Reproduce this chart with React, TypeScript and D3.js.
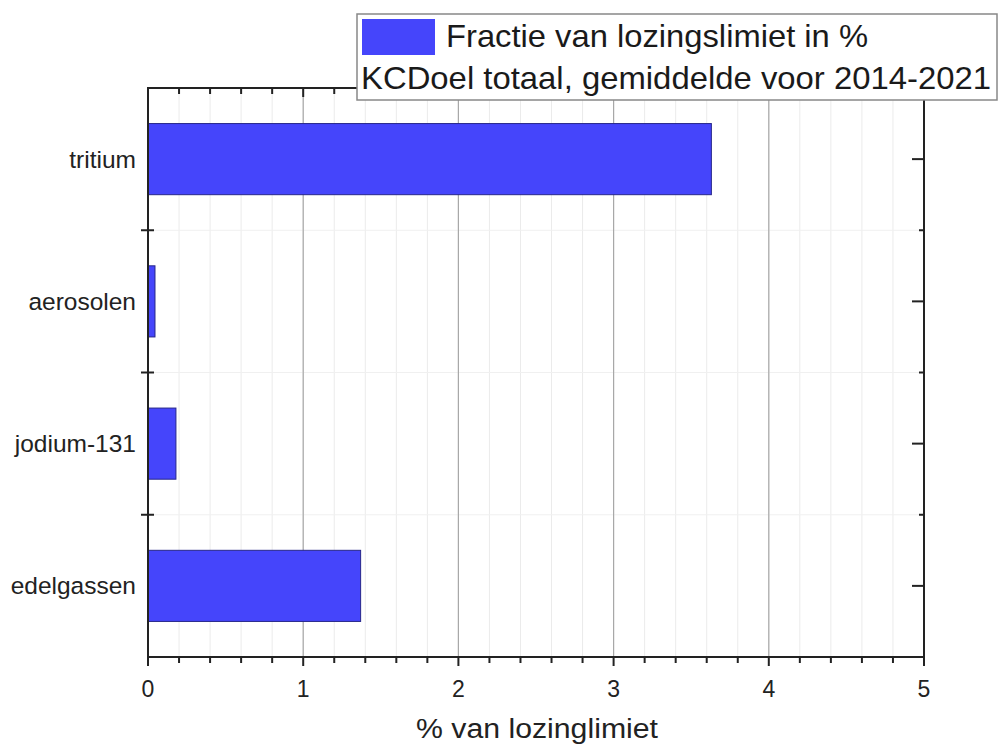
import React from "react";
import * as d3 from "d3";

const categories = ["tritium", "aerosolen", "jodium-131", "edelgassen"];
const values = [3.63, 0.045, 0.18, 1.37];
const xTicks = [0, 1, 2, 3, 4, 5];
const legendLine1 = "Fractie van lozingslimiet in %";
const legendLine2 = "KCDoel totaal, gemiddelde voor 2014-2021";
const xTitle = "% van lozinglimiet";

const W = 1000, H = 749;
const L = 148, R = 924, T = 88, B = 657;
const FONT = "'Liberation Sans', Arial, sans-serif";

export default function App() {
  const x = d3.scaleLinear().domain([0, 5]).range([L, R]);
  const y = d3.scaleBand().domain(categories).range([T, B]).paddingInner(0.5).paddingOuter(0.25);
  const band = d3.scaleBand().domain(categories).range([T, B]).padding(0);
  const minor = d3.range(0, 5.0001, 0.2).map((v) => +v.toFixed(1));
  const boundaries = categories.slice(1).map((c) => band(c)!);
  const centers = categories.map((c) => band(c)! + band.bandwidth() / 2);
  return (
    <svg width={W} height={H} style={{ position: "absolute", left: 0, top: 0, background: "#fff" }} fontFamily={FONT}>
      {/* minor grid */}
      {minor.map((v) => (
        <line key={"mg" + v} x1={x(v)} x2={x(v)} y1={T} y2={B} stroke="#ebebeb" strokeWidth={1} />
      ))}
      {boundaries.map((b, i) => (
        <line key={"hg" + i} x1={L} x2={R} y1={b} y2={b} stroke="#f0f0f0" strokeWidth={1} />
      ))}
      {xTicks.slice(1, -1).map((v) => (
        <line key={"g" + v} x1={x(v)} x2={x(v)} y1={T} y2={B} stroke="#a8a8a8" strokeWidth={1.2} />
      ))}
      {/* bars */}
      {categories.map((c, i) => (
        <rect key={c} x={x(0)} y={y(c)!} width={x(values[i]) - x(0)} height={y.bandwidth()}
          fill="#4545fb" stroke="#26268a" strokeWidth={1} />
      ))}
      {/* frame */}
      <rect x={L} y={T} width={R - L} height={B - T} fill="none" stroke="#222" strokeWidth={2} />
      {/* bottom ticks */}
      {minor.map((v) => {
        const major = Math.abs(v - Math.round(v)) < 1e-6;
        return <line key={"bt" + v} x1={x(v)} x2={x(v)} y1={B} y2={B + (major ? 9 : 6)} stroke="#222" strokeWidth={2} />;
      })}
      {/* top ticks (inward) */}
      {minor.map((v) => {
        const major = Math.abs(v - Math.round(v)) < 1e-6;
        return <line key={"tt" + v} x1={x(v)} x2={x(v)} y1={T} y2={T + (major ? 9 : 6)} stroke="#222" strokeWidth={2} />;
      })}
      {/* left ticks at boundaries */}
      {boundaries.map((b, i) => (
        <line key={"lt" + i} x1={L - 7} x2={L + 6} y1={b} y2={b} stroke="#222" strokeWidth={2} />
      ))}
      {/* right ticks */}
      {centers.map((c, i) => (
        <line key={"rc" + i} x1={R - 12} x2={R} y1={c} y2={c} stroke="#222" strokeWidth={2} />
      ))}
      {boundaries.map((b, i) => (
        <line key={"rb" + i} x1={R - 5} x2={R} y1={b} y2={b} stroke="#222" strokeWidth={2} />
      ))}
      {/* tick labels */}
      {xTicks.map((v) => (
        <text key={"xl" + v} x={x(v)} y={697} textAnchor="middle" fontSize={23} fill="#222">{v}</text>
      ))}
      {categories.map((c, i) => (
        <text key={"yl" + c} x={136} y={centers[i]} dy="0.35em" textAnchor="end" fontSize={24.5} fill="#222">{c}</text>
      ))}
      <text x={537} y={738} textAnchor="middle" fontSize={27} textLength={242} lengthAdjust="spacingAndGlyphs" fill="#222">{xTitle}</text>
      {/* legend */}
      <rect x={357} y={14} width={640} height={86} fill="#fff" stroke="#888" strokeWidth={1.5} />
      <rect x={362} y={19} width={73} height={36} fill="#4545fb" />
      <text x={446} y={47} fontSize={30.5} textLength={422} lengthAdjust="spacingAndGlyphs" fill="#1a1a1a">{legendLine1}</text>
      <text x={361} y={89} fontSize={30.5} textLength={630} lengthAdjust="spacingAndGlyphs" fill="#1a1a1a">{legendLine2}</text>
    </svg>
  );
}
